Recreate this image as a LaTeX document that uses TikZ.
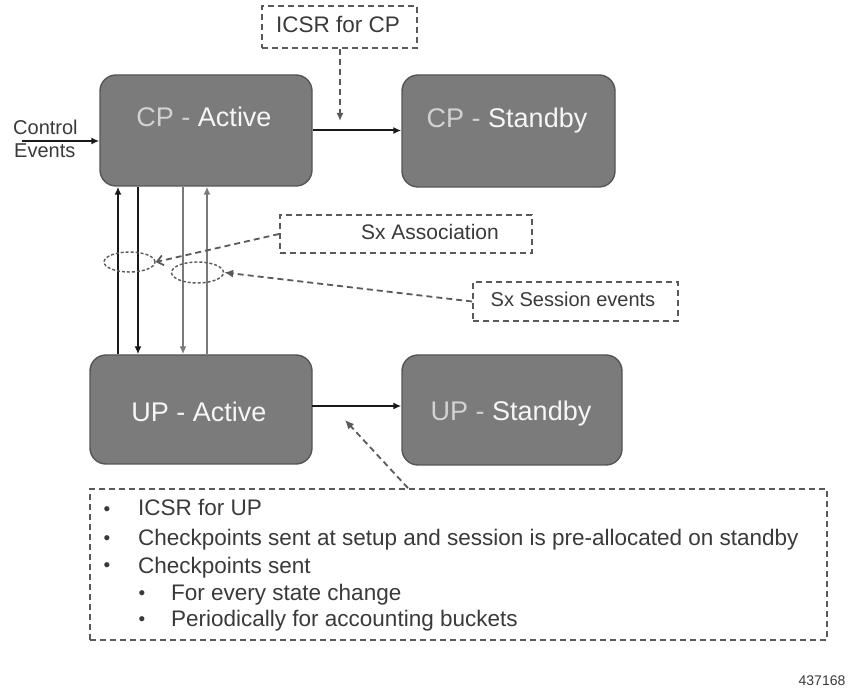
\documentclass[tikz,border=0pt]{standalone}
\usepackage{fontspec}
\setmainfont{Liberation Sans}
\usetikzlibrary{arrows.meta,shapes.geometric,calc}
\definecolor{boxfill}{HTML}{7B7B7B}
\definecolor{boxline}{HTML}{555555}
\definecolor{lightlbl}{HTML}{D2D2D2}
\definecolor{whitelbl}{HTML}{F6F6F6}
\definecolor{dashcol}{HTML}{5A5A5A}
\definecolor{txtcol}{HTML}{3A3A3A}
\definecolor{grayarrow}{HTML}{7A7A7A}
\tikzset{
  statebox/.style={draw=boxline, fill=boxfill, line width=1.4pt, rounded corners=16pt, inner sep=0pt},
  boxlabel/.style={anchor=base, inner sep=0pt, font=\fontsize{27}{30}\selectfont},
  notebox/.style={draw=dashcol, line width=1.8pt, dash pattern=on 6pt off 4pt, inner sep=0pt},
  notetext/.style={inner sep=0pt, anchor=base, text=txtcol},
  dashline/.style={draw=dashcol, line width=1.8pt, dash pattern=on 6pt off 4pt},
  ovalmark/.style={ellipse, draw=dashcol, line width=1.4pt, dash pattern=on 3pt off 2pt, inner sep=0pt},
  blackarrow/.style={draw=black!90, line width=2.3pt, -{Latex[length=8pt,width=7pt]}},
  grayarr/.style={draw=grayarrow, line width=2.2pt, -{Latex[length=8pt,width=7pt]}},
  bulletline/.style={inner sep=0pt, anchor=base west, text=txtcol, font=\fontsize{22.5}{26}\selectfont},
  bulletdot/.style={inner sep=0pt, anchor=base, text=txtcol, font=\fontsize{19}{22}\selectfont},
}
\begin{document}
\begin{tikzpicture}[x=1pt,y=-1pt]
\useasboundingbox[fill=white] (0,0) rectangle (852,692);

% state boxes
\node[statebox, minimum width=212pt, minimum height=111pt] (cpa) at (206,130.5) {};
\node[statebox, minimum width=213pt, minimum height=112pt] (cps) at (508.5,131) {};
\node[statebox, minimum width=222pt, minimum height=109pt] (upa) at (201,409.5) {};
\node[statebox, minimum width=220pt, minimum height=110pt] (ups) at (512,410) {};

\node[boxlabel] (cpat) at (204,126.5) {\textcolor{lightlbl}{CP -} \textcolor{whitelbl}{Active}};
\node[boxlabel] (cpst) at (507,127.5) {\textcolor{lightlbl}{CP -} \textcolor{whitelbl}{Standby}};
\node[boxlabel] (upat) at (199,421.5) {\textcolor{whitelbl}{UP - Active}};
\node[boxlabel] (upst) at (511,420.5) {\textcolor{lightlbl}{UP -} \textcolor{whitelbl}{Standby}};

% control events
\node[notetext, font=\fontsize{20}{24}\selectfont, anchor=base west] (ctl) at (13,134.5) {Control};
\node[notetext, font=\fontsize{20}{24}\selectfont, anchor=base west] (evt) at (14,157.5) {Events};
\coordinate (ce) at (22,141);
\draw[blackarrow, line width=2pt] (ce) -- (ce -| cpa.west);

% horizontal arrows
\draw[blackarrow, line width=2pt] (cpa.east) -- (cpa.east -| cps.west);
\coordinate (ua) at (312,406);
\draw[blackarrow, line width=2pt] (ua) -- (ua -| ups.west);

% ICSR for CP
\node[notebox, minimum width=155pt, minimum height=42pt] (icsr) at (339.5,27) {};
\node[notetext, font=\fontsize{22.5}{26}\selectfont] (icsrt) at (338,33) {ICSR for CP};
\coordinate (icsrtip) at (340,121);
\draw[dashline, -{Latex[length=8pt,width=7pt]}] (340,0 |- icsr.south) -- (icsrtip);

% vertical arrows between CP and UP
\draw[blackarrow] (118,0 |- upa.north) -- (118,0 |- cpa.south);
\draw[blackarrow] (138,0 |- cpa.south) -- (138,0 |- upa.north);
\draw[grayarr] (183,0 |- cpa.south) -- (183,0 |- upa.north);
\draw[grayarr] (207,0 |- upa.north) -- (207,0 |- cpa.south);

% ellipses
\node[ovalmark, minimum width=51pt, minimum height=20pt] (e1) at (129.5,262) {};
\node[ovalmark, minimum width=52pt, minimum height=21pt] (e2) at (197.5,272.5) {};

% Sx Association
\node[notebox, minimum width=252pt, minimum height=38pt] (sxa) at (406,234) {};
\node[notetext, font=\fontsize{21}{25}\selectfont] (sxat) at (430,239.5) {Sx Association};
\draw[dashline, -{Straight Barb[length=6pt,width=10pt]}] (sxa.west) -- (e1.east);

% Sx Session events
\node[notebox, minimum width=205pt, minimum height=39pt] (sxs) at (575.5,301.5) {};
\node[notetext, font=\fontsize{20}{24}\selectfont] (sxst) at (573,307) {Sx Session events};
\draw[dashline, -{Latex[length=9pt,width=8pt]}] (sxs.west) -- (e2.east);

% bullet box
\node[notebox, minimum width=737pt, minimum height=151pt] (bb) at (458.5,564.5) {};
\coordinate (bbtip) at (345,420);
\draw[dashline, -{Latex[length=9pt,width=8pt]}] (408,0 |- bb.north) -- (bbtip);

\node[bulletdot] (d1) at (107,515) {•};
\node[bulletdot] (d2) at (107,544) {•};
\node[bulletdot] (d3) at (107,572) {•};
\node[bulletdot] (d4) at (142,599) {•};
\node[bulletdot] (d5) at (142,625) {•};
\node[bulletline] (l1) at (138,516) {ICSR for UP};
\node[bulletline] (l2) at (138,545) {Checkpoints sent at setup and session is pre-allocated on standby};
\node[bulletline] (l3) at (138,573) {Checkpoints sent};
\node[bulletline] (l4) at (171,600) {For every state change};
\node[bulletline] (l5) at (171,626) {Periodically for accounting buckets};

\node[notetext, font=\fontsize{14}{16}\selectfont] (num) at (822,685) {437168};
\end{tikzpicture}
\end{document}
